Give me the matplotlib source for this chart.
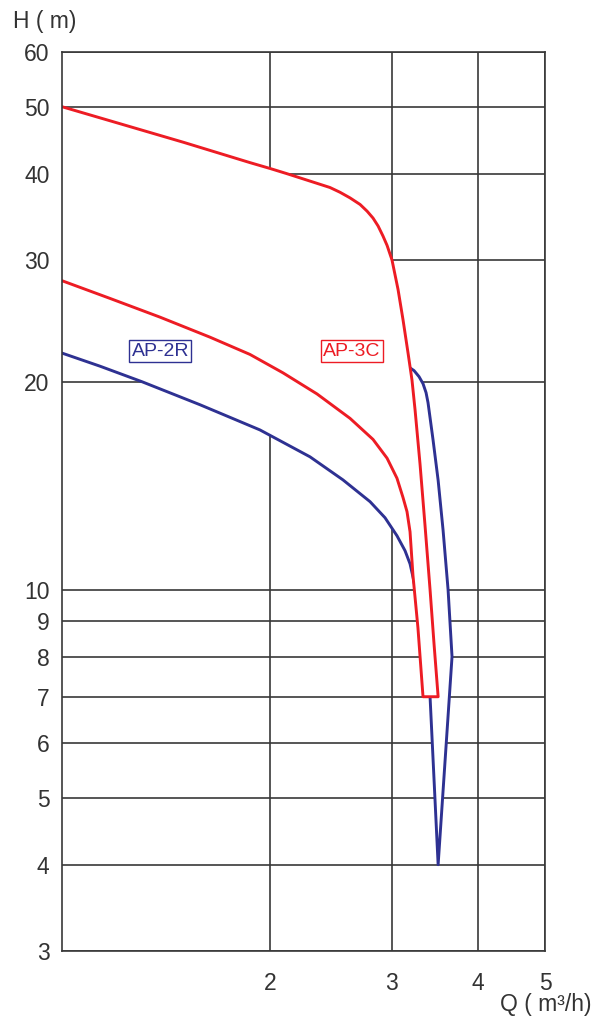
import matplotlib
matplotlib.use("Agg")
import matplotlib.pyplot as plt
from matplotlib.ticker import NullLocator, FixedLocator, FixedFormatter

plt.rcParams['font.family'] = ['Liberation Sans', 'DejaVu Sans']

# ---------------- data ----------------
x_ticks = [2, 3, 4, 5]
x_tick_labels = ["2", "3", "4", "5"]
y_ticks = [3, 4, 5, 6, 7, 8, 9, 10, 20, 30, 40, 50, 60]
y_tick_labels = [str(v) for v in y_ticks]

# AP-3C (red) upper curve
red_upper_q = [1.0, 1.5, 1.871, 2.0, 2.116, 2.442, 2.525, 2.611, 2.70, 2.764, 2.819,
               2.867, 2.914, 2.954, 3.003, 3.064, 3.115, 3.168, 3.21, 3.243, 3.297,
               3.352, 3.409, 3.455, 3.502]
red_upper_h = [50.0, 44.4, 41.5, 40.7, 40.0, 38.2, 37.6, 36.9, 36.1, 35.3, 34.5,
               33.6, 32.5, 31.5, 30.0, 27.2, 24.6, 22.0, 20.1, 18.2, 15.2,
               12.4, 10.0, 8.33, 7.0]
# AP-3C (red) lower curve
red_lower_q = [1.0, 1.173, 1.386, 1.637, 1.871, 2.088, 2.339, 2.611, 2.819, 2.954,
               3.053, 3.115, 3.157, 3.189, 3.220, 3.274, 3.330]
red_lower_h = [28.0, 26.4, 24.8, 23.2, 21.9, 20.6, 19.2, 17.7, 16.5, 15.5,
               14.5, 13.6, 12.97, 12.13, 10.5, 8.81, 7.0]

# AP-2R (blue) left curve (top-left down to the bottom tip)
blue_left_q = [1.0, 1.135, 1.305, 1.584, 1.934, 2.285, 2.55, 2.791, 2.934, 3.053,
               3.136, 3.189, 3.220, 3.248, 3.409, 3.502]
blue_left_h = [22.0, 21.06, 20.0, 18.52, 17.03, 15.57, 14.42, 13.41, 12.71, 11.97,
               11.39, 10.9, 10.44, 10.0, 7.0, 4.0]
# AP-2R (blue) right curve (bottom tip up to the red curve)
blue_right_q = [3.502, 3.668, 3.620, 3.560, 3.502, 3.443, 3.409, 3.386, 3.364, 3.330,
                3.286, 3.232, 3.178]
blue_right_h = [4.0, 8.0, 10.0, 12.2, 14.4, 16.48, 17.74, 18.65, 19.28, 19.87,
                20.34, 20.75, 20.99]

labels = ["AP-2R", "AP-3C"]
label_q = [1.388, 2.629]
label_h = [22.14, 22.14]

RED = "#ED1C24"
BLUE = "#2E3192"
GRID = "#383838"
TEXT = "#333333"

# ---------------- figure ----------------
fig = plt.figure(figsize=(5.94, 10.26), dpi=100)
ax = fig.add_axes([62 / 594, (1026 - 951) / 1026, 483 / 594, 899 / 1026])
ax.set_xscale('log')
ax.set_yscale('log')
ax.set_xlim(1, 5)
ax.set_ylim(3, 60)

ax.xaxis.set_major_locator(FixedLocator(x_ticks))
ax.xaxis.set_major_formatter(FixedFormatter(x_tick_labels))
ax.xaxis.set_minor_locator(NullLocator())
ax.yaxis.set_major_locator(FixedLocator(y_ticks))
ax.yaxis.set_major_formatter(FixedFormatter(y_tick_labels))
ax.yaxis.set_minor_locator(NullLocator())
ax.tick_params(axis='both', length=0, labelsize=16.5, colors=TEXT)
ax.tick_params(axis='x', pad=15)
ax.tick_params(axis='y', pad=9)

ax.set_axisbelow(True)
ax.grid(True, which='major', color=GRID, lw=1.2)
for s in ax.spines.values():
    s.set_color(GRID)
    s.set_linewidth(1.2)

# white envelope hiding grid lines inside the operating range
env_q = [q for q, h in zip(red_upper_q, red_upper_h) if h >= 21] + blue_right_q[::-1] + blue_left_q[::-1]
env_h = [h for h in red_upper_h if h >= 21] + blue_right_h[::-1] + blue_left_h[::-1]
ax.fill(env_q, env_h, facecolor='white', edgecolor='none', zorder=1)

# blue curve
ax.plot(blue_left_q + blue_right_q, blue_left_h + blue_right_h, color=BLUE, lw=2.1,
        zorder=2, solid_joinstyle='round')

# red region (white filled, hides blue underneath)
red_q = red_upper_q + red_lower_q[::-1]
red_h = red_upper_h + red_lower_h[::-1]
ax.fill(red_q, red_h, facecolor='white', edgecolor='none', zorder=2.1)
ax.plot(red_q, red_h, color=RED, lw=2.1, zorder=2.2, solid_joinstyle='round')

# labels
for txt, q, h, c in zip(labels, label_q, label_h, [BLUE, RED]):
    ax.text(q, h, txt, color=c, fontsize=14, ha='center', va='center', zorder=3,
            bbox=dict(boxstyle='square,pad=0.12', facecolor='white', edgecolor=c, lw=1.0))

fig.text(13 / 594, 1 - 22 / 1026, "H ( m)", fontsize=16.5, ha='left', va='center', color=TEXT)
fig.text(592 / 594, 1 - 1005 / 1026, "Q ( m³/h)", fontsize=16.5, ha='right', va='center', color=TEXT)

fig.savefig("out.png", dpi=100)
